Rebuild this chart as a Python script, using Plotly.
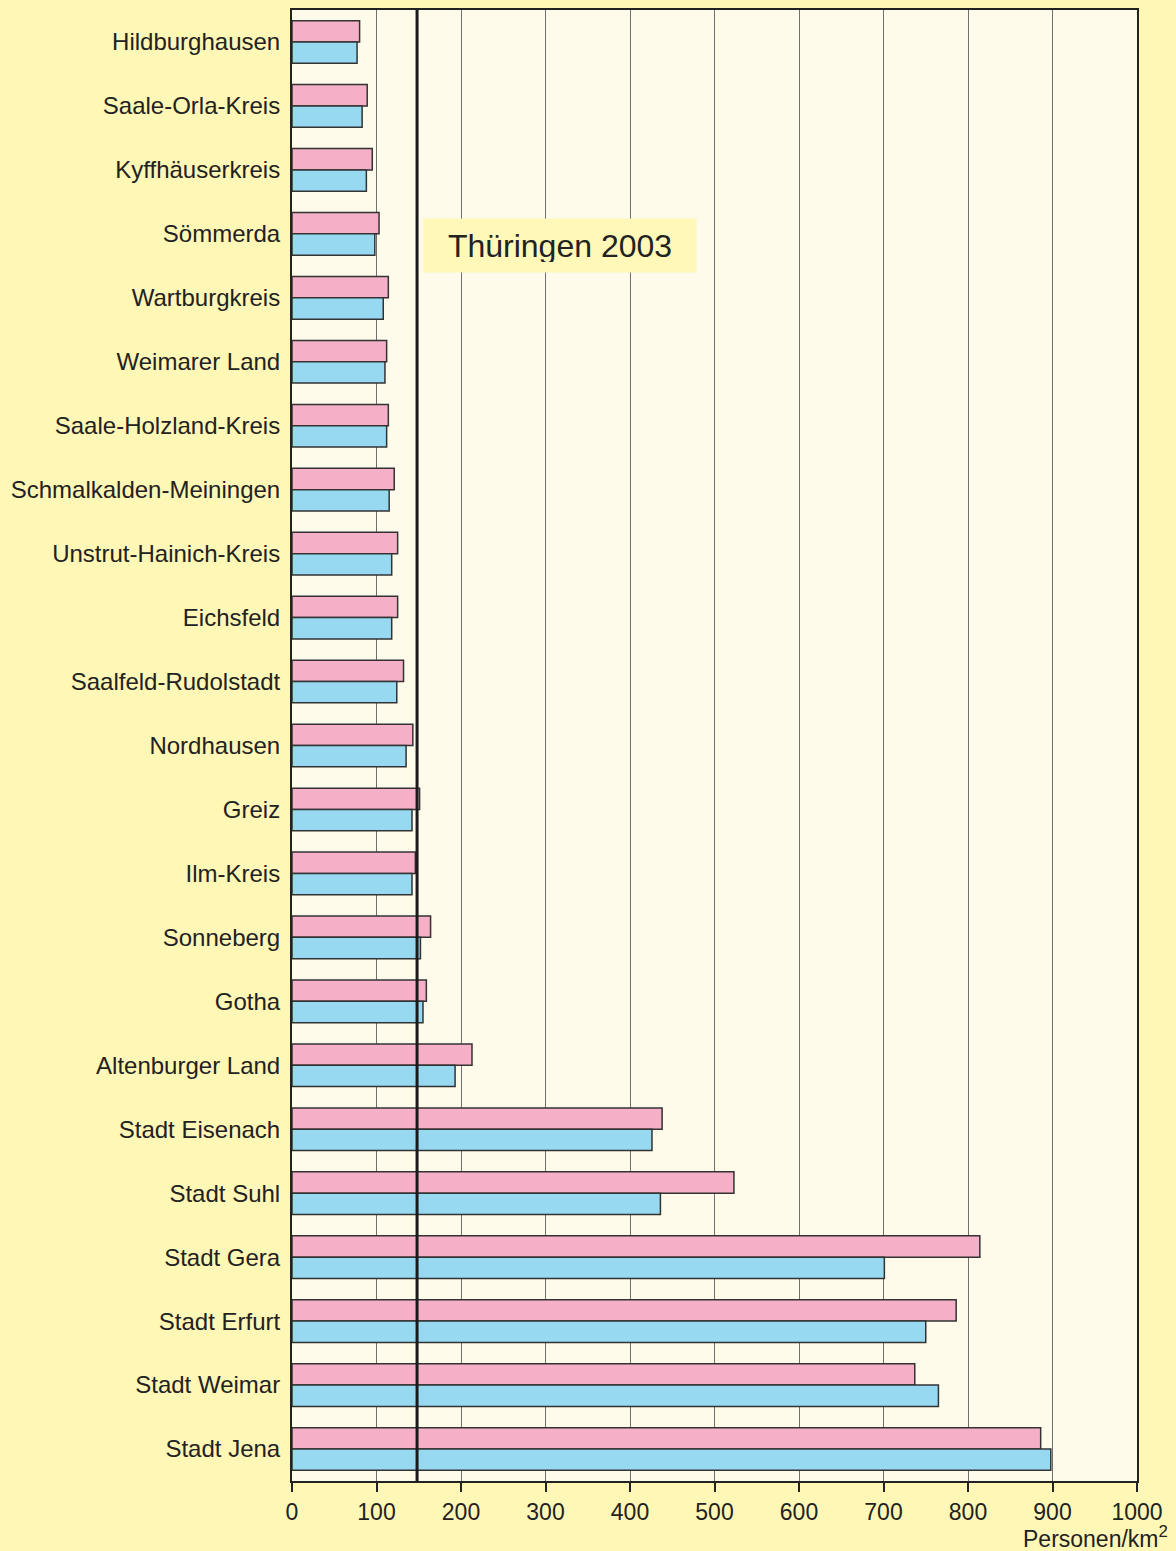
import plotly.graph_objects as go

districts = [
    "Hildburghausen", "Saale-Orla-Kreis", "Kyffhäuserkreis", "Sömmerda",
    "Wartburgkreis", "Weimarer Land", "Saale-Holzland-Kreis",
    "Schmalkalden-Meiningen", "Unstrut-Hainich-Kreis", "Eichsfeld",
    "Saalfeld-Rudolstadt", "Nordhausen", "Greiz", "Ilm-Kreis", "Sonneberg",
    "Gotha", "Altenburger Land", "Stadt Eisenach", "Stadt Suhl", "Stadt Gera",
    "Stadt Erfurt", "Stadt Weimar", "Stadt Jena",
]
density_pink = [80, 89, 95, 103, 114, 112, 114, 121, 125, 125, 132, 143, 151,
                146, 164, 159, 213, 438, 523, 814, 786, 737, 886]
density_blue = [77, 83, 88, 98, 108, 110, 112, 115, 118, 118, 124, 135, 142,
                142, 152, 155, 193, 426, 436, 701, 750, 765, 898]
thueringen_density = 148
x_ticks = [0, 100, 200, 300, 400, 500, 600, 700, 800, 900, 1000]

FONT = "Liberation Sans, Arial, Helvetica, sans-serif"
TXT = "#222222"

W, H = 1176, 1551
M_L, M_R, M_T, M_B = 292, 39, 8, 70
plot_h = H - M_T - M_B

fig = go.Figure()
fig.add_trace(go.Bar(
    y=districts, x=density_pink, orientation="h", name="1990",
    marker=dict(color="#F5B0C8", line=dict(color="#333333", width=1.5)),
))
fig.add_trace(go.Bar(
    y=districts, x=density_blue, orientation="h", name="2003",
    marker=dict(color="#96D9F1", line=dict(color="#333333", width=1.5)),
))

fig.add_shape(type="line", xref="x", yref="paper", x0=thueringen_density,
              x1=thueringen_density, y0=0, y1=1, layer="above",
              line=dict(color="#1a1a1a", width=3))

fig.add_annotation(x=317, xref="x", y=1 - (244 - M_T) / plot_h, yref="paper",
                   yanchor="middle",
                   text="Thüringen 2003", showarrow=False,
                   font=dict(family=FONT, size=32, color=TXT),
                   bgcolor="#FFF8B8", borderpad=10, width=252, height=33)

fig.add_annotation(x=1.0, xref="paper", xanchor="right",
                   y=-(1553 - (H - M_B)) / plot_h, yref="paper",
                   yanchor="bottom",
                   text="Personen/km<span style='font-size:24px'><sup>2</sup></span>",
                   showarrow=False, xshift=32, borderpad=0,
                   font=dict(family=FONT, size=23, color=TXT))

fig.update_layout(
    width=W, height=H,
    margin=dict(l=M_L, r=M_R, t=M_T, b=M_B),
    paper_bgcolor="#FFF7B6",
    plot_bgcolor="#FFFBEA",
    barmode="group", bargap=0.333, bargroupgap=0,
    showlegend=False,
    font=dict(family=FONT, color=TXT),
)
fig.update_xaxes(
    range=[0, 1000], tickvals=x_ticks, ticktext=[str(v) for v in x_ticks],
    showgrid=True, gridcolor="#6f6f6f", gridwidth=1,
    showline=True, linecolor="#222222", linewidth=2, mirror=True,
    ticks="outside", ticklen=9, tickcolor="#222222", tickwidth=1.5,
    tickfont=dict(size=23, color=TXT), zeroline=False,
)
fig.update_yaxes(
    autorange="reversed", showgrid=False,
    showline=True, linecolor="#222222", linewidth=2, mirror=True,
    ticks="", ticklabelstandoff=5,
    tickfont=dict(size=24, color=TXT),
)

fig.write_html("out.html",
               config={"displayModeBar": False},
               post_script="document.body.style.margin='0';"
                           "document.body.style.background='#FFF7B6';")
